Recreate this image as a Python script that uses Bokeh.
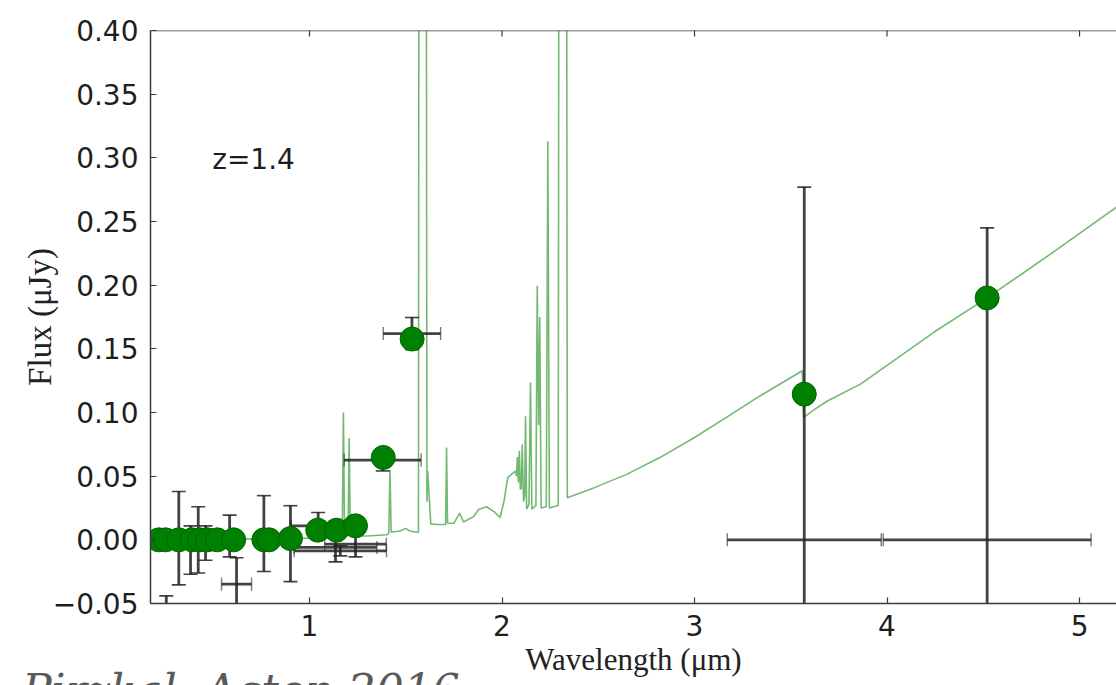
import math
from bokeh.plotting import figure
from bokeh.layouts import column
from bokeh.models import Range1d, FixedTicker, CustomJSTickFormatter, Label, Span, Div
from bokeh.embed import file_html
from bokeh.resources import INLINE

# ---- model spectrum (wavelength in micron, flux in microJy) ----
spec_wl = [0.17, 0.50, 0.90, 1.10, 1.170, 1.176, 1.182, 1.200, 1.206, 1.212,
           1.30, 1.40, 1.412, 1.418, 1.424, 1.47, 1.50, 1.52, 1.56, 1.566,
           1.570, 1.576, 1.582, 1.588, 1.594, 1.600, 1.604, 1.610, 1.614, 1.63,
           1.66, 1.70, 1.707, 1.712, 1.717, 1.75, 1.78, 1.80, 1.85, 1.88,
           1.92, 1.96, 1.99, 2.01, 2.03, 2.07, 2.075, 2.080, 2.085, 2.090,
           2.095, 2.100, 2.105, 2.112, 2.118, 2.122, 2.128, 2.140, 2.148, 2.155,
           2.176, 2.183, 2.190, 2.196, 2.203, 2.230, 2.238, 2.246, 2.292, 2.298,
           2.305, 2.312, 2.319, 2.326, 2.333, 2.339, 2.48, 2.65, 2.82, 3.00,
           3.17, 3.34, 3.560, 3.566, 3.62, 3.69, 3.862, 4.243, 4.52, 4.849,
           5.19, 5.30]
spec_flux = [0.000, 0.0005, 0.001, 0.0015, 0.002, 0.100, 0.003, 0.003, 0.080, 0.003,
             0.003, 0.004, 0.005, 0.055, 0.006, 0.007, 0.009, 0.007, 0.006, 0.006,
             0.90, 0.55, 0.90, 0.55, 0.90, 0.55, 0.90, 0.030, 0.054, 0.0125,
             0.012, 0.012, 0.012, 0.0725, 0.013, 0.013, 0.021, 0.014, 0.018, 0.024,
             0.026, 0.022, 0.0175, 0.030, 0.049, 0.054, 0.050, 0.065, 0.045, 0.070,
             0.040, 0.040, 0.075, 0.030, 0.035, 0.097, 0.024, 0.028, 0.1235, 0.024,
             0.027, 0.1995, 0.090, 0.175, 0.025, 0.026, 0.313, 0.025, 0.027, 0.90,
             0.55, 0.90, 0.55, 0.90, 0.90, 0.033, 0.041, 0.0516, 0.0646, 0.0804,
             0.0966, 0.113, 0.1328, 0.096, 0.102, 0.109, 0.1223, 0.163, 0.190, 0.2244,
             0.261, 0.273]

# ---- observed photometry (black error bars) ----
obs_wl = [0.256, 0.321, 0.382, 0.422, 0.460, 0.585, 0.621, 0.763, 0.901,
          1.045, 1.135, 1.239, 1.160, 1.380, 1.532, 3.570, 4.520]
obs_flux = [-0.070, 0.0013, -0.008, 0.000, -0.0025, 0.003, -0.0348, 0.0049, -0.003,
            0.011, -0.006, -0.0034, -0.0086, 0.0626, 0.162, 0.000, 0.000]
obs_flux_err = [0.026, 0.0367, 0.019, 0.026, 0.0135, 0.0164, 0.0207, 0.0298, 0.0298,
                0.0105, 0.0113, 0.010, 0.004, 0.0085, 0.0126, 0.277, 0.245]
obs_wl_err = [0.0, 0.0, 0.0, 0.0, 0.0, 0.0, 0.078, 0.0, 0.0,
              0.14, 0.215, 0.16, 0.24, 0.20, 0.149, 0.40, 0.54]

# ---- model fluxes in the bands (green dots) ----
band_wl = [0.217, 0.252, 0.321, 0.390, 0.430, 0.469, 0.521, 0.606, 0.763, 0.790,
           0.901, 1.043, 1.140, 1.239, 1.383, 1.533, 3.570, 4.520]
band_flux = [0.0, 0.0, 0.0, 0.0, 0.0, 0.0, 0.0, 0.0, 0.0, 0.0,
             0.001, 0.0076, 0.0076, 0.011, 0.0647, 0.1577, 0.1144, 0.190]

x_ticks = [1, 2, 3, 4, 5]
y_ticks = [-0.05, 0.0, 0.05, 0.10, 0.15, 0.20, 0.25, 0.30, 0.35, 0.40]
y_top = 0.40

p = figure(width=1116, height=685, output_backend="svg", toolbar_location=None,
           x_range=Range1d(0.174, 5.192), y_range=Range1d(-0.05, y_top),
           min_border_left=150, min_border_right=0, min_border_top=30,
           min_border_bottom=82)
p.outline_line_color = None
p.grid.visible = False
p.background_fill_color = "white"
p.border_fill_color = "white"

axis_color = "#3a3a3a"

# spectrum
p.line(spec_wl, spec_flux, line_color="#008000", line_alpha=0.55, line_width=1.6)

# error bars
ebc = "#222222"
v_x0 = obs_wl
v_lo = [y - e for y, e in zip(obs_flux, obs_flux_err)]
v_hi = [y + e for y, e in zip(obs_flux, obs_flux_err)]
p.segment(x0=v_x0, y0=v_lo, x1=v_x0, y1=v_hi, line_color=ebc, line_alpha=0.85, line_width=2.8)
p.scatter(v_x0 + v_x0, v_lo + v_hi, marker="dash", size=14, line_color=ebc,
          line_alpha=0.85, line_width=1.6)
hx = [x for x, e in zip(obs_wl, obs_wl_err) if e > 0]
hy = [y for y, e in zip(obs_flux, obs_wl_err) if e > 0]
he = [e for e in obs_wl_err if e > 0]
h_lo = [x - e for x, e in zip(hx, he)]
h_hi = [x + e for x, e in zip(hx, he)]
p.segment(x0=h_lo, y0=hy, x1=h_hi, y1=hy, line_color=ebc, line_alpha=0.85, line_width=2.8)
p.scatter(h_lo + h_hi, hy + hy, marker="dash", angle=math.pi / 2, size=13,
          line_color=ebc, line_alpha=0.6, line_width=1.4)

# model band fluxes
p.scatter(band_wl, band_flux, size=24, fill_color="#008000", line_color="#006400",
          line_width=1)

# top frame line and inward ticks on it
p.add_layout(Span(location=y_top, dimension="width", line_color=axis_color, line_width=1.5))
p.scatter(x_ticks, [y_top] * len(x_ticks), marker="dash", angle=math.pi / 2, size=12,
          line_color=axis_color, line_width=1.2)

for ax in (p.xaxis[0], p.yaxis[0]):
    ax.axis_line_color = axis_color
    ax.axis_line_width = 1.5
    ax.major_tick_line_color = axis_color
    ax.major_tick_line_width = 1.2
    ax.major_tick_in = 6
    ax.major_tick_out = 0
    ax.minor_tick_line_color = None
    ax.major_label_text_font = "DejaVu Sans"
    ax.major_label_text_font_size = "28px"
    ax.major_label_text_color = "#1e1e1e"
    ax.axis_label_text_font = "Liberation Serif"
    ax.axis_label_text_font_style = "normal"
    ax.axis_label_text_color = "#222222"

p.xaxis.axis_label_text_font_size = "31px"
p.yaxis.axis_label_text_font_size = "33px"
p.xaxis.ticker = FixedTicker(ticks=x_ticks)
p.yaxis.ticker = FixedTicker(ticks=y_ticks)
p.yaxis.formatter = CustomJSTickFormatter(code="return tick.toFixed(2).replace('-', '\u2212');")
p.xaxis.major_label_standoff = 11
p.yaxis.major_label_standoff = 12
p.xaxis.axis_label = "Wavelength (\u03bcm)"
p.yaxis.axis_label = "Flux (\u03bcJy)"
p.xaxis.axis_label_standoff = 3
p.yaxis.axis_label_standoff = -8

p.add_layout(Label(x=0.4945, y=0.299, text="z=1.4", text_font="DejaVu Sans",
                   text_font_size="28px", text_color="#1e1e1e",
                   text_baseline="alphabetic"))

caption = Div(text="Pirzkal, Acton 2016", width=600, height=50,
              margin=(-16, 0, 0, 22),
              styles={"font-family": "'DejaVu Serif'", "font-style": "italic",
                      "font-size": "44px", "color": "#5a5a5a", "line-height": "1",
                      "white-space": "nowrap"})

layout = column(p, caption, spacing=0)
open("out.html", "w").write(file_html(layout, INLINE))
